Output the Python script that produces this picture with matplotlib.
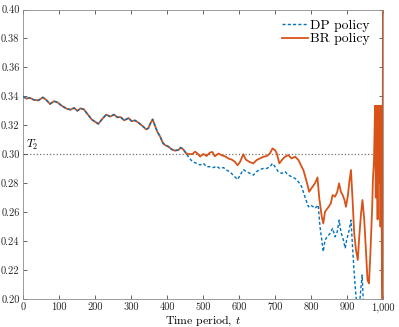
import numpy as np
import matplotlib
matplotlib.use('Agg')
import matplotlib.pyplot as plt

# shared part of both trajectories (policies coincide until ~t=455)
t_common = [0, 10, 19, 29, 43, 55, 66, 75, 86, 95, 107, 121, 132, 142, 151, 160, 169,
            179, 191, 200, 209, 219, 231, 242, 253, 262, 271, 281, 293, 302, 311, 323,
            334, 342, 348, 353, 360, 367, 373, 381, 388, 394, 404, 413, 422, 432, 438,
            445, 453]
v_common = [0.340, 0.3384, 0.3390, 0.3377, 0.3372, 0.3393, 0.3372, 0.3347, 0.3366, 0.3360,
            0.3336, 0.3315, 0.3308, 0.3320, 0.3300, 0.3317, 0.3310, 0.3278, 0.3240, 0.3225,
            0.3210, 0.3240, 0.3274, 0.3260, 0.3274, 0.3255, 0.3257, 0.3234, 0.3250, 0.3228,
            0.3234, 0.3214, 0.3191, 0.3172, 0.3179, 0.3209, 0.3241, 0.3195, 0.3156, 0.3122,
            0.3080, 0.3064, 0.3053, 0.3034, 0.3025, 0.3030, 0.3046, 0.3034, 0.3007]

# BR policy after the split
t_br = [462, 471, 478, 484, 492, 501, 510, 519, 526, 533, 543, 552, 561, 571, 580, 589,
        596, 603, 612, 619, 629, 640, 649, 658, 668, 677, 686, 693, 700, 705, 712, 719,
        728, 737, 746, 756, 765, 774, 779, 788, 795, 801, 811, 818, 823, 830, 834, 839,
        849, 855, 860, 867, 873, 878, 883, 888, 893, 897, 902, 906, 911, 916, 920, 925,
        930, 934, 939, 943, 948, 953, 957, 961, 965, 970, 972, 975, 978, 980, 982, 985,
        987, 989, 991, 993, 995, 997, 999, 1000]
v_br = [0.3000, 0.3002, 0.3018, 0.3007, 0.2984, 0.3002, 0.2988, 0.3011, 0.3016, 0.2986,
        0.3005, 0.2993, 0.2986, 0.2970, 0.2963, 0.2947, 0.2924, 0.2947, 0.3000, 0.2963,
        0.2947, 0.2937, 0.2960, 0.2971, 0.2983, 0.2987, 0.3006, 0.3040, 0.3029, 0.3006,
        0.2937, 0.2960, 0.2983, 0.2994, 0.2971, 0.2983, 0.2960, 0.2914, 0.2890, 0.2810,
        0.2741, 0.2764, 0.2799, 0.2840, 0.2695, 0.2568, 0.2522, 0.2603, 0.2637, 0.2660,
        0.2718, 0.2707, 0.2741, 0.2799, 0.2741, 0.2718, 0.2684, 0.2637, 0.2707, 0.2799,
        0.2891, 0.2660, 0.2453, 0.2338, 0.2269, 0.2430, 0.2591, 0.2684, 0.2545, 0.2315,
        0.2131, 0.2108, 0.2315, 0.2637, 0.2822, 0.2960, 0.3335, 0.2700, 0.3335, 0.2550,
        0.3335, 0.2800, 0.3335, 0.2500, 0.3335, 0.2220, 0.1800, 0.5000]

# DP policy after the split
t_dp = [462, 471, 482, 492, 501, 510, 519, 529, 538, 547, 557, 566, 575, 584, 596, 603,
        612, 621, 631, 640, 649, 658, 668, 677, 686, 693, 700, 709, 719, 728, 737, 746,
        756, 765, 774, 780, 786, 793, 799, 806, 811, 820, 825, 830, 834, 839, 845, 853,
        860, 867, 873, 878, 883, 890, 895, 899, 906, 911, 916, 920, 925, 930, 936, 942,
        946, 952, 1000]
v_dp = [0.2972, 0.2949, 0.2937, 0.2926, 0.2937, 0.2914, 0.2914, 0.2908, 0.2917, 0.2901,
        0.2908, 0.2890, 0.2878, 0.2855, 0.2825, 0.2855, 0.2894, 0.2878, 0.2868, 0.2856,
        0.2880, 0.2895, 0.2902, 0.2902, 0.2914, 0.2937, 0.2914, 0.2880, 0.2868, 0.2880,
        0.2856, 0.2845, 0.2833, 0.2810, 0.2776, 0.2730, 0.2684, 0.2637, 0.2649, 0.2637,
        0.2626, 0.2649, 0.2499, 0.2407, 0.2327, 0.2407, 0.2430, 0.2453, 0.2488, 0.2430,
        0.2465, 0.2545, 0.2465, 0.2407, 0.2350, 0.2407, 0.2476, 0.2545, 0.2338, 0.2177,
        0.2016, 0.1900, 0.2000, 0.2166, 0.1950, 0.1700, 0.1500]

threshold_T2 = 0.30
x_ticks = [0, 100, 200, 300, 400, 500, 600, 700, 800, 900, 1000]
x_tick_labels = ['0', '100', '200', '300', '400', '500', '600', '700', '800', '900', '1,000']
y_ticks = [0.20, 0.22, 0.24, 0.26, 0.28, 0.30, 0.32, 0.34, 0.36, 0.38, 0.40]

blue = '#0072BD'
orange = '#D95319'

plt.rcParams['font.family'] = 'serif'
plt.rcParams['font.serif'] = ['cmr10', 'DejaVu Serif']
plt.rcParams['mathtext.fontset'] = 'cm'
plt.rcParams['axes.formatter.use_mathtext'] = True

fig = plt.figure(figsize=(3.99, 3.27), dpi=100)
ax = fig.add_axes([23 / 399, 1 - 299 / 327, 360 / 399, 289.5 / 327])

t_all_br = t_common + t_br
v_all_br = v_common + v_br
t_all_dp = t_common + t_dp
v_all_dp = v_common + v_dp

ax.axhline(threshold_T2, color='0.45', ls=':', lw=0.9, zorder=1)
br_line, = ax.plot(t_all_br, v_all_br, color=orange, lw=1.3, label='BR policy', zorder=2)
dp_line, = ax.plot(t_all_dp, v_all_dp, color=blue, lw=1.0, ls=(0, (2.2, 1.6)),
                   label='DP policy', zorder=3)

ax.text(9, 0.3015, '$T_2$', fontsize=8.5, ha='left', va='bottom')

ax.set_xlim(0, 1000)
ax.set_ylim(0.20, 0.40)
ax.set_xticks(x_ticks)
ax.set_xticklabels(x_tick_labels)
ax.set_yticks(y_ticks)
ax.set_yticklabels(['%.2f' % y for y in y_ticks])
ax.tick_params(direction='in', top=True, right=True, length=2.8, width=0.5,
               labelsize=7.5, colors='0.15', pad=2.5)
for s in ax.spines.values():
    s.set_color('0.55')
    s.set_linewidth(0.6)

ax.set_xlabel('Time period, $t$', fontsize=8.5, labelpad=1)

ax.legend(handles=[dp_line, br_line], loc='upper right', frameon=False, fontsize=9.8,
          handlelength=1.9, handletextpad=0.2, labelspacing=0.1,
          borderaxespad=0.3, bbox_to_anchor=(0.99, 1.0))

fig.savefig('out.png', dpi=100)
